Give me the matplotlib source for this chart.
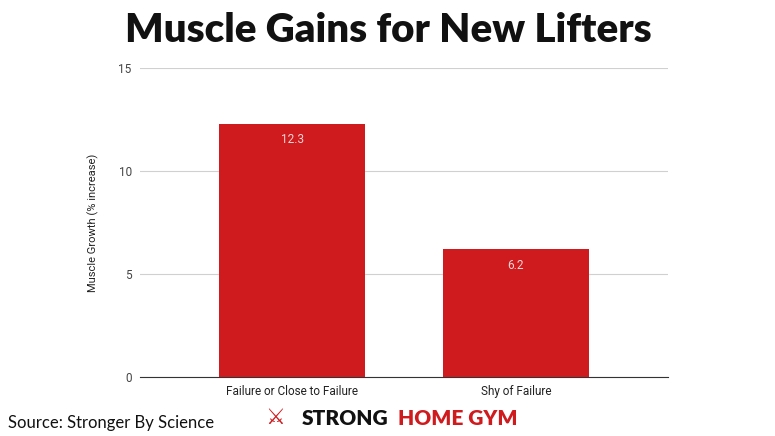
import matplotlib
matplotlib.use("Agg")
import matplotlib.pyplot as plt

categories = ["Failure or Close to Failure", "Shy of Failure"]
values = [12.3, 6.2]
yticks = [0, 5, 10, 15]

fig = plt.figure(figsize=(7.75, 4.36), dpi=100)
ax = fig.add_axes([140/775, 1-377/436, 528/775, (377-68)/436])
x = list(range(len(categories)))
bars = ax.bar(x, values, width=0.65, color="#cf1a1e", zorder=3)
for xi, v in zip(x, values):
    ax.text(xi, v - 0.45, f"{v}", ha="center", va="top", color="#f3d6d6", fontsize=8.5, family="Roboto", zorder=4)
ax.set_xlim(-0.68, 1.68)
ax.set_ylim(0, 15)
ax.set_yticks(yticks)
ax.set_yticklabels([str(t) for t in yticks], fontsize=8.5, family="Roboto", color="#444444")
ax.set_xticks(x)
ax.set_xticklabels(categories, fontsize=8.5, family="Roboto", color="#222222")
ax.grid(axis="y", color="#d0d0d0", linewidth=0.8, zorder=0)
for s in ["top", "right", "left"]:
    ax.spines[s].set_visible(False)
ax.spines["bottom"].set_color("#333333")
ax.tick_params(length=0, pad=6)
ax.set_ylabel("Muscle Growth (% increase)", fontsize=8, family="Roboto", color="#222222", labelpad=14)

fig.text(388/775, 1-30/436, "Muscle Gains for New Lifters", ha="center", va="center",
         fontsize=29, fontweight="heavy", family="Lato", color="#111111")
fig.text(8/775, 1-423/436, "Source: Stronger By Science", ha="left", va="center",
         fontsize=12, family="Lato", color="#111111")
fig.text(265/775, 1-418/436, "\u2694", ha="left", va="center", fontsize=16, color="#cf1a1e", family="DejaVu Sans")
t1 = fig.text(302/775, 1-418/436, "STRONG", ha="left", va="center", fontsize=15, fontweight="heavy", family="Lato", color="#111111")
fig.text(398/775, 1-418/436, "HOME GYM", ha="left", va="center", fontsize=15, fontweight="heavy", family="Lato", color="#cf1a1e")
fig.savefig("out.png", dpi=100)
